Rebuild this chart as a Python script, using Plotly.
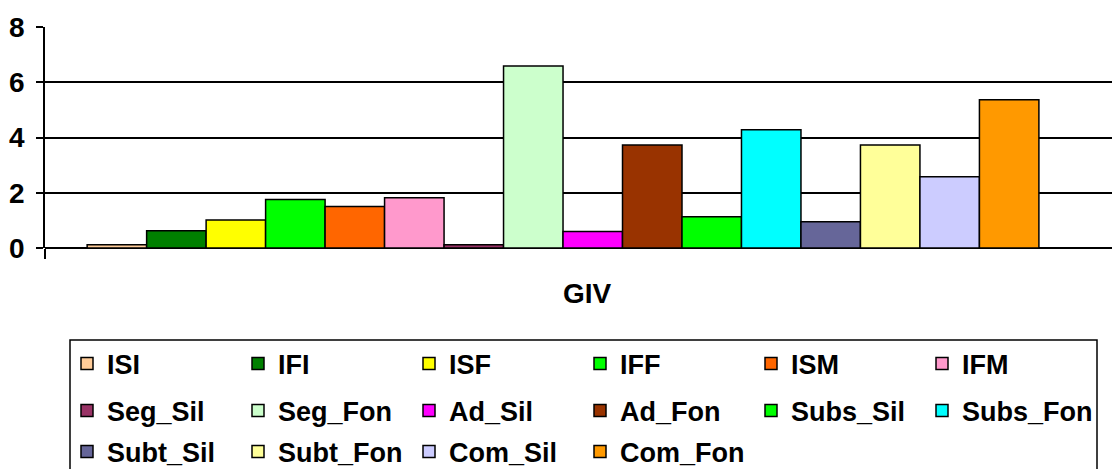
import plotly.graph_objects as go

categories = ["GIV"]
series_names = ["ISI", "IFI", "ISF", "IFF", "ISM", "IFM",
                "Seg_Sil", "Seg_Fon", "Ad_Sil", "Ad_Fon", "Subs_Sil", "Subs_Fon",
                "Subt_Sil", "Subt_Fon", "Com_Sil", "Com_Fon"]
series_values = [0.12, 0.62, 1.01, 1.76, 1.50, 1.82,
                 0.12, 6.59, 0.60, 3.73, 1.13, 4.28,
                 0.95, 3.73, 2.58, 5.37]
series_colors = ["#FFCC99", "#008000", "#FFFF00", "#00FF00", "#FF6600", "#FF99CC",
                 "#993366", "#CCFFCC", "#FF00FF", "#993300", "#00FF00", "#00FFFF",
                 "#666699", "#FFFF99", "#CCCCFF", "#FF9900"]
y_ticks = [0, 2, 4, 6, 8]

W, H = 1112, 469
ML, MR, MT, MB = 45, 0, 27, 221
FONT = "Liberation Sans, Arial, sans-serif"
FS_AX = 28
FS_LEG = 27

x_lo = -0.4855
x_hi = x_lo + 1.0
label_pos = 0.0225

legend_ids = ["legend", "legend2", "legend3"]
row_y_px = [364, 411, 452]

fig = go.Figure()
for i, (name, val, col) in enumerate(zip(series_names, series_values, series_colors)):
    fig.add_trace(go.Bar(
        x=[0], y=[val], name=name,
        marker=dict(color=col, line=dict(color="black", width=1.5)),
        legend=legend_ids[i // 6],
        hoverinfo="name+y",
    ))

leg_common = dict(
    orientation="h",
    xref="container", yref="container",
    x=67 / W, xanchor="left", yanchor="middle",
    entrywidth=126, entrywidthmode="pixels",
    font=dict(family=FONT, size=FS_LEG, color="black", weight="bold"),
    bgcolor="rgba(0,0,0,0)", borderwidth=0,
    itemclick=False, itemdoubleclick=False,
)

layout_legends = {}
for lid, py in zip(legend_ids, row_y_px):
    d = dict(leg_common)
    d["y"] = 1 - py / H
    layout_legends[lid] = d

pw = W - ML - MR
ph = H - MT - MB
box_l, box_r, box_t, box_b = 70, 1097, 340, 480

fig.update_layout(
    width=W, height=H,
    margin=dict(l=ML, r=MR, t=MT, b=MB, autoexpand=False),
    paper_bgcolor="white", plot_bgcolor="white",
    barmode="group", bargap=0.108, bargroupgap=0,
    showlegend=True,
    font=dict(family=FONT, size=FS_AX, color="black", weight="bold"),
    xaxis=dict(
        range=[x_lo, x_hi], tickmode="array", tickvals=[label_pos], ticktext=categories,
        showgrid=False, zeroline=False, showline=False, ticks="",
        ticklabelstandoff=26,
        tickfont=dict(family=FONT, size=FS_AX, color="black", weight="bold"),
        minor=dict(ticks="outside", ticklen=10, tickwidth=1.5, tickcolor="black",
                   tickmode="array", tickvals=[x_lo], showgrid=False),
        fixedrange=True,
    ),
    yaxis=dict(
        range=[0, 8], tickmode="array", tickvals=y_ticks,
        showgrid=True, gridcolor="black", gridwidth=1.5,
        zeroline=True, zerolinecolor="black", zerolinewidth=1.5,
        showline=True, linecolor="black", linewidth=1.5,
        ticks="outside", ticklen=7, tickwidth=1.5, tickcolor="black",
        ticklabelstandoff=6,
        tickfont=dict(family=FONT, size=FS_AX, color="black", weight="bold"),
        fixedrange=True,
    ),
    shapes=[dict(
        type="rect", xref="paper", yref="paper",
        x0=(box_l - ML) / pw, x1=(box_r - ML) / pw,
        y0=(H - MB - box_b) / ph, y1=(H - MB - box_t) / ph,
        line=dict(color="black", width=1.5), fillcolor="rgba(0,0,0,0)",
        layer="below",
    )],
    **layout_legends,
)

fig.write_html(
    "out.html",
    config={"displayModeBar": False},
    post_script="document.body.style.margin='0';document.body.style.overflow='hidden';",
)
